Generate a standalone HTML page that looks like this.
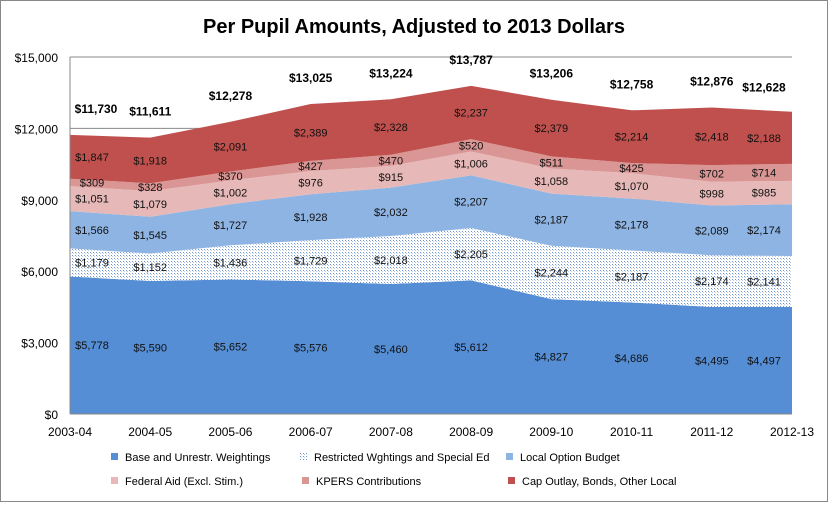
<!DOCTYPE html>
<html><head><meta charset="utf-8">
<style>
body{margin:0;background:#fff;font-family:"Liberation Sans",sans-serif;}
svg text{font-family:"Liberation Sans",sans-serif;}
</style></head><body>
<svg id="chart" width="828" height="502" viewBox="0 0 828 502">
<defs>
<pattern id="dots" width="3" height="3" patternUnits="userSpaceOnUse">
<rect width="3" height="3" fill="#ffffff"/>
<rect width="1" height="1" fill="#6f96cc"/>
<rect x="1" y="1" width="1" height="1" fill="#b9cbe6"/>
</pattern>
</defs>
<rect x="0.5" y="0.5" width="827" height="501" fill="#fff" stroke="#888"/>
<text x="414" y="33" text-anchor="middle" font-size="20" font-weight="bold">Per Pupil Amounts, Adjusted to 2013 Dollars</text>
<g id="grid"></g>
<g id="areas"></g>
<g id="labels"></g>
<g id="axes"></g>
<g id="legend"></g>
</svg>
<script>
const categories=["2003-04","2004-05","2005-06","2006-07","2007-08","2008-09","2009-10","2010-11","2011-12","2012-13"];
const seriesNames=["Base and Unrestr. Weightings","Restricted Wghtings and Special Ed","Local Option Budget","Federal Aid (Excl. Stim.)","KPERS Contributions","Cap Outlay, Bonds, Other Local"];
const base=[5778,5590,5652,5576,5460,5612,4827,4686,4495,4497];
const restricted=[1179,1152,1436,1729,2018,2205,2244,2187,2174,2141];
const lob=[1566,1545,1727,1928,2032,2207,2187,2178,2089,2174];
const federal=[1051,1079,1002,976,915,1006,1058,1070,998,985];
const kpers=[309,328,370,427,470,520,511,425,702,714];
const capOutlay=[1847,1918,2091,2389,2328,2237,2379,2214,2418,2188];
const totals=[11730,11611,12278,13025,13224,13787,13206,12758,12876,12628];
const yTicks=[0,3000,6000,9000,12000,15000];
const yTickLabels=["$0","$3,000","$6,000","$9,000","$12,000","$15,000"];

const series=[base,restricted,lob,federal,kpers,capOutlay];
const fills=["#558ed5","url(#dots)","#8eb4e3","#e6b9b8","#d99694","#c0504d"];
const X0=70,X1=792,Y0=414,Y1=57,YMAX=15000;
const NS="http://www.w3.org/2000/svg";
function xs(i){return X0+i*(X1-X0)/(categories.length-1);}
function ys(v){return Y0-v/YMAX*(Y0-Y1);}
function mk(tag,attrs,parent){const e=document.createElementNS(NS,tag);for(const k in attrs)e.setAttribute(k,attrs[k]);parent.appendChild(e);return e;}
function fmt(v){return "$"+v.toLocaleString("en-US");}
const grid=document.getElementById("grid"),areas=document.getElementById("areas"),labels=document.getElementById("labels"),axes=document.getElementById("axes"),legend=document.getElementById("legend");
yTicks.forEach((t,i)=>{
  if(t>0){const l=mk("line",{x1:X0,x2:X1,y1:ys(t),y2:ys(t),stroke:"#888","stroke-width":1},grid);
  
  }
  const tx=mk("text",{x:X0-12,y:ys(t)+5,"text-anchor":"end","font-size":12},axes);
  tx.textContent=yTickLabels[i];
  
  
});
let cum=categories.map(()=>0);
series.forEach((s,si)=>{
  const lower=cum.slice();
  const upper=cum.map((c,i)=>c+s[i]);
  let d="";
  upper.forEach((v,i)=>{d+=(i?"L":"M")+xs(i)+","+ys(v);});
  for(let i=lower.length-1;i>=0;i--)d+="L"+xs(i)+","+ys(lower[i]);
  d+="Z";
  const p=mk("path",{d:d,fill:fills[si]},areas);
  
  
  s.forEach((v,i)=>{
    let x=Math.min(Math.max(xs(i),X0+22),X1-28);
    const t=mk("text",{x:x,y:ys((lower[i]+upper[i])/2)+4,"text-anchor":"middle","font-size":11,fill:"#111"},labels);
    t.textContent=fmt(v);
    
    
  });
  cum=upper;
});
totals.forEach((v,i)=>{
  let x=Math.min(Math.max(xs(i),X0+26),X1-28);
  const t=mk("text",{x:x,y:ys(v)-22,"text-anchor":"middle","font-size":12,"font-weight":"bold"},labels);
  t.textContent=fmt(v);
  
  
});
const ax=mk("line",{x1:X0,x2:X0,y1:Y1,y2:Y0,stroke:"#888"},axes);


const bx=mk("line",{x1:X0,x2:X1,y1:Y0,y2:Y0,stroke:"#888"},axes);


categories.forEach((c,i)=>{
  let x=Math.min(xs(i),X1+3);
  const t=mk("text",{x:x,y:Y0+22,"text-anchor":"middle","font-size":12},axes);
  t.textContent=c;
  
  
});
const legPos=[[111,459],[300,459],[506,459],[111,483],[302,483],[508,483]];
seriesNames.forEach((n,i)=>{
  const g=mk("g",{},legend);
  
  
  mk("rect",{x:legPos[i][0],y:legPos[i][1]-6,width:7,height:7,fill:fills[i]},g);
  const t=mk("text",{x:legPos[i][0]+14,y:legPos[i][1]+2,"font-size":11},g);
  t.textContent=n;
});
</script>
</body></html>
